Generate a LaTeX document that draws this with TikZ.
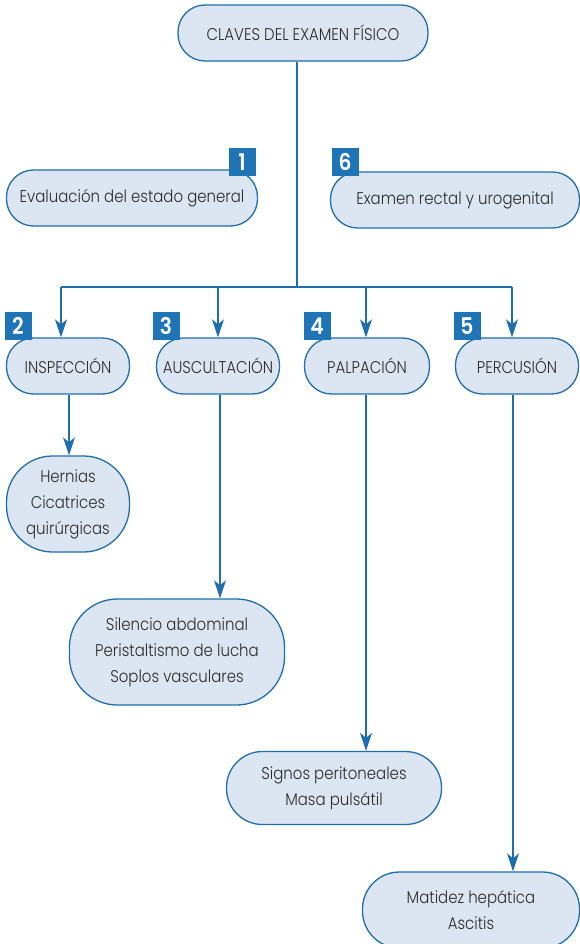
\documentclass[tikz,border=0pt]{standalone}
\usepackage{fontspec}
\setmainfont{Poppins}[FakeStretch=0.88, UprightFont=* Light, BoldFont=* SemiBold]
\usetikzlibrary{arrows.meta}
\definecolor{lineblue}{HTML}{1F6EAE}
\definecolor{boxfill}{HTML}{DCE6F2}
\definecolor{badgeblue}{HTML}{1F74B6}
\definecolor{txt}{HTML}{2B2B2B}
\begin{document}
\begin{tikzpicture}[x=1pt,y=-1pt,
 box/.style={draw=lineblue, fill=boxfill, line width=1.3pt, text=txt, font=\fontsize{17}{26}\selectfont, align=center, inner sep=0pt},
 pill/.style={box, minimum height=56pt, rounded corners=27pt},
 badge/.style={fill=badgeblue, text=white, font=\bfseries\fontsize{23}{23}\selectfont, minimum width=27pt, minimum height=28pt, inner sep=0pt},
 conn/.style={draw=lineblue, line width=1.4pt},
 arr/.style={conn, -{Stealth[length=18pt,width=12pt,inset=5pt]}}
]
\useasboundingbox (0,0) rectangle (580,944);
\node[pill, minimum width=250pt] (top) at (303,33) {CLAVES DEL EXAMEN FÍSICO};
\node[pill, minimum width=251pt] (eval) at (132,198) {Evaluación del estado general};
\node[pill, minimum width=249pt] (exam) at (455,200) {Examen rectal y urogenital};
\node[pill, minimum width=123pt] (insp) at (68,366) {INSPECCIÓN};
\node[pill, minimum width=123pt] (ausc) at (218,366) {AUSCULTACIÓN};
\node[pill, minimum width=125pt] (palp) at (367,366) {PALPACIÓN};
\node[pill, minimum width=123pt] (perc) at (517,366) {PERCUSIÓN};
\node[box, minimum width=123pt, minimum height=96pt, rounded corners=46pt] (hern) at (68,504) {Hernias\\Cicatrices\\quirúrgicas};
\node[box, minimum width=215pt, minimum height=106pt, rounded corners=48pt] (sil) at (177,652) {Silencio abdominal\\Peristaltismo de lucha\\Soplos vasculares};
\node[box, minimum width=215pt, minimum height=73pt, rounded corners=36pt] (sig) at (334,788) {Signos peritoneales\\Masa pulsátil};
\node[box, minimum width=217pt, minimum height=76pt, rounded corners=37pt] (mat) at (471,910) {Matidez hepática\\Ascitis};
\node[badge] (b1) at (242,162) {1};
\node[badge] (b6) at (345,162) {6};
\node[badge] (b2) at (18,326) {2};
\node[badge] (b3) at (166,326) {3};
\node[badge] (b4) at (317,326) {4};
\node[badge] (b5) at (467,326) {5};
\coordinate (j) at (297,287);
\coordinate (jl) at (61,287);
\coordinate (jr) at (512,287);
\coordinate (j3) at (218,287);
\coordinate (j4) at (366,287);
\draw[conn] (top.south -| j) -- (j);
\draw[conn] (jl) -- (jr);
\draw[arr] (jl) -- (insp.north -| jl);
\draw[arr] (j3) -- (ausc.north -| j3);
\draw[arr] (j4) -- (palp.north -| j4);
\draw[arr] (jr) -- (perc.north -| jr);
\coordinate (x2) at (69,0);
\coordinate (x3) at (220,0);
\coordinate (x4) at (366,0);
\coordinate (x5) at (513,0);
\draw[arr] (insp.south -| x2) -- (hern.north -| x2);
\draw[arr] (ausc.south -| x3) -- (sil.north -| x3);
\draw[arr] (palp.south -| x4) -- (sig.north -| x4);
\draw[arr] (perc.south -| x5) -- (mat.north -| x5);
\end{tikzpicture}
\end{document}
